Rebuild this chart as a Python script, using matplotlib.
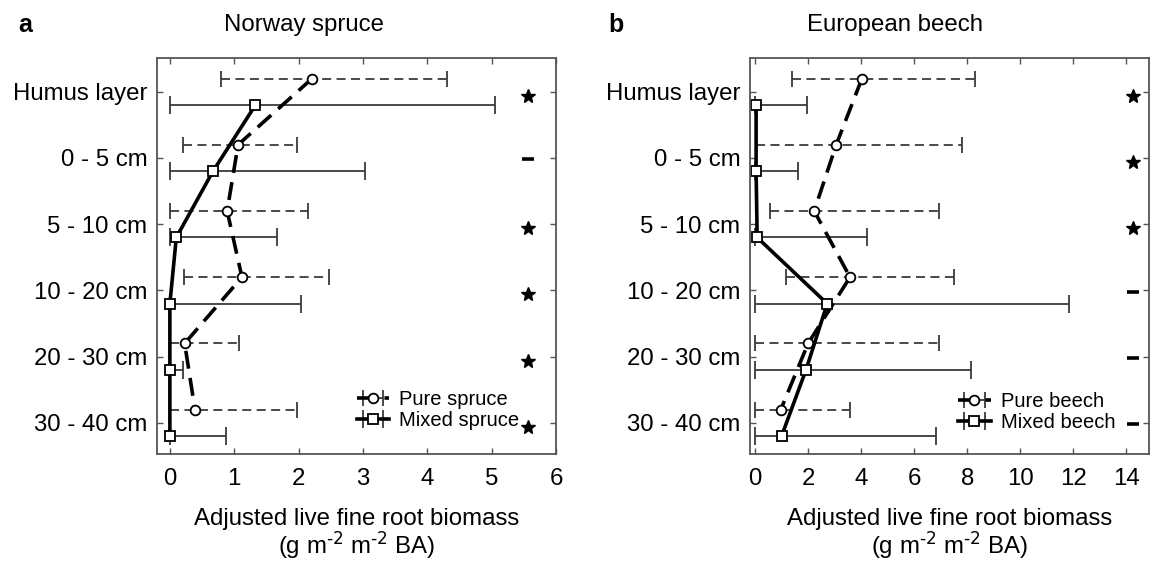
import matplotlib
matplotlib.use('Agg')
import matplotlib.pyplot as plt
import numpy as np

plt.rcParams['font.family'] = ['Liberation Sans', 'DejaVu Sans']
plt.rcParams['mathtext.default'] = 'regular'

depths = ['Humus layer', '0 - 5 cm', '5 - 10 cm', '10 - 20 cm', '20 - 30 cm', '30 - 40 cm']

# a: Norway spruce (mean, left and right end of bar)
spruce_pure = [2.21, 1.06, 0.89, 1.12, 0.23, 0.39]
spruce_pure_lo = [0.80, 0.20, 0.00, 0.22, 0.00, 0.00]
spruce_pure_hi = [4.31, 1.97, 2.14, 2.48, 1.08, 1.97]
spruce_mixed = [1.33, 0.67, 0.10, 0.00, 0.00, 0.00]
spruce_mixed_lo = [0.00, 0.00, 0.00, 0.00, 0.00, 0.00]
spruce_mixed_hi = [5.05, 3.03, 1.67, 2.03, 0.20, 0.87]
spruce_sig = ['*', '-', '*', '*', '*', '*']

# b: European beech
beech_pure = [4.03, 3.06, 2.23, 3.58, 2.00, 0.97]
beech_pure_lo = [1.40, 0.05, 0.57, 1.16, 0.00, 0.00]
beech_pure_hi = [8.30, 7.80, 6.95, 7.50, 6.95, 3.58]
beech_mixed = [0.04, 0.04, 0.08, 2.72, 1.92, 1.00]
beech_mixed_lo = [0.00, 0.00, 0.00, 0.00, 0.00, 0.00]
beech_mixed_hi = [1.95, 1.63, 4.23, 11.85, 8.14, 6.83]
beech_sig = ['*', '*', '*', '-', '-', '-']

xlabel = 'Adjusted live fine root biomass\n(g m$^{\\text{-2}}$ m$^{\\text{-2}}$ BA)'
grey = '#3a3a3a'
fs = 17.3


def panel(ax, pure, plo, phi, mixed, mlo, mhi, sig, sig_x, names):
    y = np.arange(len(depths))
    pure, plo, phi = np.array(pure), np.array(plo), np.array(phi)
    mixed, mlo, mhi = np.array(mixed), np.array(mlo), np.array(mhi)

    eb = ax.errorbar(pure, y - 0.2, xerr=[pure - plo, phi - pure],
                     color='black', ecolor=grey, elinewidth=1.3,
                     capsize=6, capthick=1.3,
                     lw=2.6, linestyle=(0, (5, 2.6)),
                     marker='o', ms=7, mfc='white', mec='black', mew=1.3,
                     label=names[0])
    eb[2][0].set_linestyle((0, (5, 3)))
    ax.errorbar(mixed, y + 0.2, xerr=[mixed - mlo, mhi - mixed],
                color='black', ecolor=grey, elinewidth=1.3,
                capsize=6.5, capthick=1.3,
                lw=2.6, linestyle='-',
                marker='s', ms=7.5, mfc='white', mec='black', mew=1.3,
                label=names[1])

    for yi, s in zip(y, sig):
        if s == '*':
            ax.plot(sig_x, yi + 0.06, marker='*', ms=10, color='black')
        else:
            ax.plot(sig_x, yi + 0.02, marker='_', ms=9, mew=2.6, color='black')

    ax.set_yticks(y)
    ax.set_yticklabels(depths)
    ax.set_ylim(5.47, -0.51)
    ax.tick_params(direction='in', top=True, right=True, length=4,
                   color='#555555', labelsize=fs, width=1)
    ax.tick_params(axis='y', pad=7)
    ax.tick_params(axis='x', pad=10)
    for sp in ax.spines.values():
        sp.set_color('#555555')
        sp.set_linewidth(1.3)
    ax.set_xlabel(xlabel, fontsize=fs, linespacing=1.0, labelpad=13)


fig = plt.figure(figsize=(11.5, 5.61), dpi=100)
ax1 = fig.add_axes([157 / 1150, 107 / 561, 399 / 1150, 396 / 561])
ax2 = fig.add_axes([750 / 1150, 107 / 561, 399 / 1150, 396 / 561])

panel(ax1, spruce_pure, spruce_pure_lo, spruce_pure_hi,
      spruce_mixed, spruce_mixed_lo, spruce_mixed_hi,
      spruce_sig, 5.56, ['Pure spruce', 'Mixed spruce'])
ax1.set_xlim(-0.2, 6)
ax1.set_xticks(range(0, 7))

panel(ax2, beech_pure, beech_pure_lo, beech_pure_hi,
      beech_mixed, beech_mixed_lo, beech_mixed_hi,
      beech_sig, 14.26, ['Pure beech', 'Mixed beech'])
ax2.set_xlim(-0.19, 14.85)
ax2.set_xticks(range(0, 15, 2))

leg_kw = dict(loc='lower left', frameon=False, fontsize=14.5, borderpad=0,
              handlelength=1.6, handletextpad=0.5, labelspacing=0.12)
ax1.legend(bbox_to_anchor=(0.475, 0.035), **leg_kw)
ax2.legend(bbox_to_anchor=(0.497, 0.03), **leg_kw)

fig.text(25 / 1150, 1 - 25 / 561, 'a', fontsize=18, fontweight='bold',
         ha='center', va='center')
fig.text(616 / 1150, 1 - 25 / 561, 'b', fontsize=18, fontweight='bold',
         ha='center', va='center')
fig.text(304 / 1150, 1 - 25 / 561, 'Norway spruce', fontsize=fs,
         ha='center', va='center')
fig.text(895 / 1150, 1 - 25 / 561, 'European beech', fontsize=fs,
         ha='center', va='center')

fig.savefig('out.png', dpi=100)
